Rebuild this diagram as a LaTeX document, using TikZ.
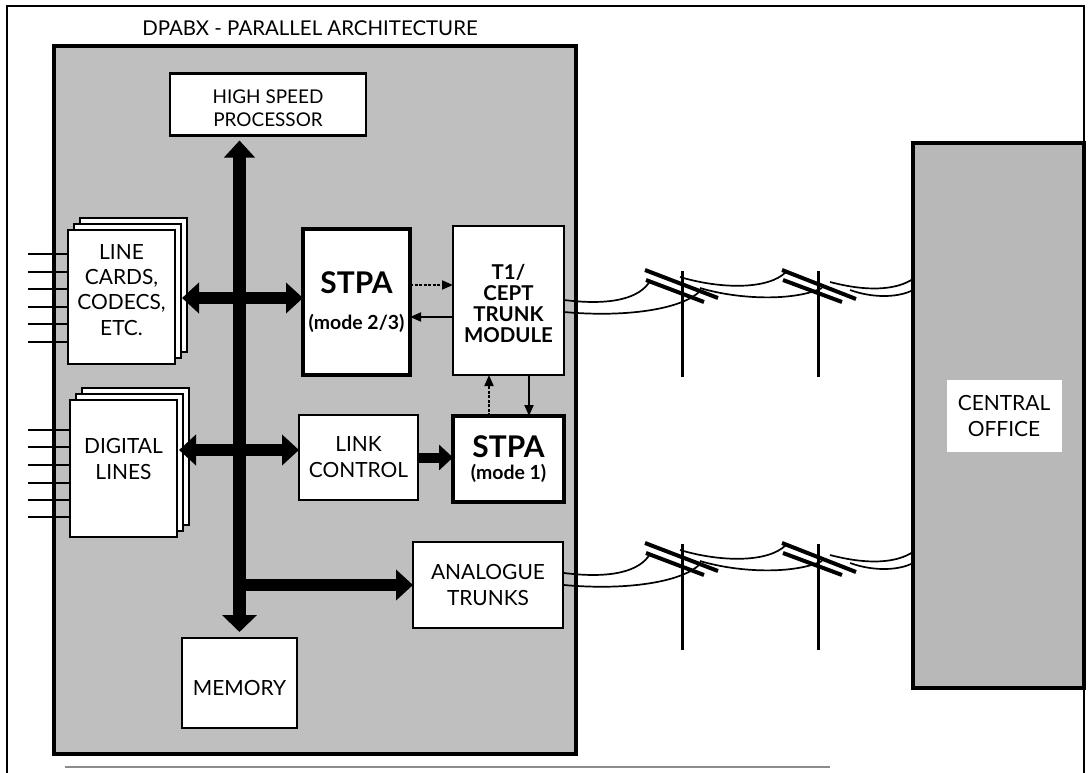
\documentclass[tikz,border=0pt]{standalone}
\usepackage{fontspec}
\setmainfont{Lato}
\usetikzlibrary{arrows.meta}

% one unit = one bp, y grows downwards
\tikzset{
  x=1bp, y=-1bp,
  box/.style={draw, fill=white, line width=2.2bp, inner sep=0pt, outer sep=0pt, align=center},
  heavybox/.style={box, line width=4.5bp},
  panelfill/.style={fill=black!25, draw, line width=3.5bp},
  bigarrow/.style={line width=12bp, -{Triangle[width=30bp,length=17bp]}},
  bigdouble/.style={line width=12bp, {Triangle[width=30bp,length=17bp]}-{Triangle[width=30bp,length=17bp]}},
  midarrow/.style={line width=10bp, -{Triangle[width=25bp,length=14bp]}},
  thinarrow/.style={line width=1.8bp, -{Triangle[width=9bp,length=11bp]}},
  brokenline/.style={dash pattern=on 3bp off 1.5bp},
  pole/.style={line width=3bp},
  arm/.style={line width=4bp},
  wire/.style={line width=1.7bp},
  stub/.style={line width=1.6bp},
  txt/.style={font=\fontsize{21}{26}\selectfont},
}

% centred block of lines, moved up by #1 without changing the box size
\newcommand\liftedlines[3]{\raisebox{#1}[0pt][0pt]{\parbox{#2}{\centering #3}}}

% a pair of telephone poles with the two wires they carry
\newcommand\trunkroute[1]{%
  \begin{scope}[shift={(0,#1)}]
    \draw[pole] (682,271) -- (682,377);
    \draw[pole] (818,271) -- (818,377);
    \draw[arm] (645,270) -- (718,298);
    \draw[arm] (646,280) -- (704,302);
    \draw[arm] (782,270) -- (856,299);
    \draw[arm] (783,280) -- (842,302);
    \draw[wire] (564,300) .. controls (612,306) and (640,298) .. (650,281);
    \draw[wire] (564,312) .. controls (630,318) and (684,308) .. (700,291);
    \draw[wire] (680,277) .. controls (720,289) and (768,290) .. (786,272);
    \draw[wire] (700,288) .. controls (740,300) and (795,301) .. (822,288);
    \draw[wire] (830,282) .. controls (868,292) and (896,290) .. (913,279);
    \draw[wire] (850,290) .. controls (875,299) and (900,297) .. (913,290);
  \end{scope}}

\begin{document}
\begin{tikzpicture}
\useasboundingbox (0,0) rectangle (1091,773);

% outer frame
\draw[line width=1.8bp] (7,773) -- (7,6) -- (1084,6) -- (1084,773);
\draw[line width=1.5bp, black!45] (65,767) -- (830,767);

% title and the switch cabinet
\node[font=\fontsize{20.5}{24}\selectfont] (title) at (310,28) {DPABX - PARALLEL ARCHITECTURE};
\draw[panelfill] (54,46) rectangle (576,754);

% central office
\node[draw, fill=black!28, line width=3.5bp, minimum width=171bp, minimum height=545bp, inner sep=0pt] (co) at (998.5,415.5) {};
\node[fill=white, txt, align=center, minimum width=115bp, minimum height=72bp, inner sep=0pt] (colabel) at (1004,416) {CENTRAL\\OFFICE};

% trunk routes to the central office
\trunkroute{0}
\trunkroute{273}

% line stubs
\foreach \yy in {254,272,289,307,324,342} \draw[stub] (28,\yy) -- (70,\yy);
\foreach \yy in {430,447,465,483,500,517} \draw[stub] (28,\yy) -- (72,\yy);

% stacked card modules
\draw[line width=1.6bp, fill=white] (80,218) rectangle (187,352);
\draw[line width=1.6bp, fill=white] (74,224) rectangle (181,358);
\node[box, font=\fontsize{21}{25.5}\selectfont, minimum width=107bp, minimum height=134bp] (lc) at (121.5,297)
  {\liftedlines{2bp}{104bp}{LINE\\CARDS,\\CODECS,\\ETC.}};
\draw[line width=1.6bp, fill=white] (82,388) rectangle (189,525);
\draw[line width=1.6bp, fill=white] (76,394) rectangle (183,531);
\node[box, txt, minimum width=107bp, minimum height=137bp] (dl) at (123.5,468.5)
  {\liftedlines{4bp}{104bp}{DIGITAL\\LINES}};

% processor, memory and interfaces
\node[box, font=\fontsize{19}{23}\selectfont, minimum width=196bp, minimum height=62bp] (proc) at (268,104.5)
  {\liftedlines{-8bp}{190bp}{HIGH SPEED\\PROCESSOR}};
\node[box, txt, minimum width=115bp, minimum height=90bp] (mem) at (239.5,683) {\raisebox{-12.5bp}[0pt][0pt]{MEMORY}};

\node[heavybox, minimum width=107bp, minimum height=146bp] (stpaA) at (356.5,302)
  {\raisebox{4bp}{\fontsize{30}{30}\selectfont\bfseries STPA}\\[16bp]{\fontsize{19.5}{20}\selectfont\bfseries (mode 2/3)}};
\node[box, font=\fontsize{20.5}{21}\selectfont\bfseries, minimum width=111bp, minimum height=149bp] (t1) at (508.5,300.5)
  {\liftedlines{-8.5bp}{108bp}{T1/\\CEPT\\TRUNK\\MODULE}};
\node[box, txt, minimum width=119bp, minimum height=85bp] (lnk) at (358.5,457.5) {LINK\\CONTROL};
\node[heavybox, minimum width=111bp, minimum height=86bp] (stpaB) at (508.5,459)
  {{\fontsize{30}{30}\selectfont\bfseries STPA}\\[6bp]{\fontsize{19.5}{20}\selectfont\bfseries (mode 1)}};
\node[box, txt, minimum width=150bp, minimum height=86bp] (at) at (488,585) {ANALOGUE\\TRUNKS};

% system bus
\coordinate (busTop) at (mem.north |- proc.south);
\draw[line width=13bp, {Triangle[width=30bp,length=17bp]}-{Triangle[width=34bp,length=17bp]}, shorten <=5bp, shorten >=6bp] (busTop) -- (mem.north);

% bus connections
\draw[bigdouble] ([xshift=7bp]lc.east |- 0,298) -- (stpaA.west |- 0,298);
\draw[bigdouble] ([xshift=2bp]dl.east |- 0,450) -- (lnk.west |- 0,450);
\draw[bigarrow] (mem.north |- at.west) -- (at.west);
\draw[midarrow] (lnk.east) -- (lnk.east -| stpaB.west);

% links between the trunk module and the two STPAs
\draw[thinarrow, brokenline] (stpaA.east |- 0,285) -- (t1.west |- 0,285);
\draw[thinarrow] (t1.west |- 0,317) -- (stpaA.east |- 0,317);
\draw[thinarrow, brokenline] (stpaB.north -| 489,0) -- (t1.south -| 489,0);
\draw[thinarrow] (t1.south -| 529,0) -- (stpaB.north -| 529,0);
\end{tikzpicture}
\end{document}
